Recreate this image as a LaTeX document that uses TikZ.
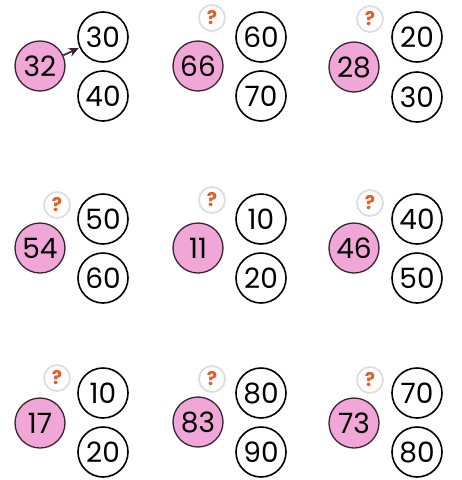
\documentclass[tikz,border=0pt]{standalone}
\usepackage{fontspec}
\setmainfont{Poppins}
\usetikzlibrary{arrows.meta}

\definecolor{ballpink}{RGB}{240,166,215}
\definecolor{ringdark}{RGB}{55,35,50}
\definecolor{hintorange}{RGB}{232,92,42}

\tikzset{
    given/.style={circle, draw=ringdark, fill=ballpink, line width=1.3pt,
        minimum size=50pt, inner sep=0pt, font=\fontsize{28}{28}\selectfont},
    tens/.style={circle, draw=black, fill=white, line width=1.6pt,
        minimum size=50pt, inner sep=0pt, font=\fontsize{28}{28}\selectfont},
    hint/.style={circle, draw=black!13, fill=white, line width=1.8pt,
        minimum size=26pt, inner sep=0pt, text=hintorange,
        font=\bfseries\fontsize{19}{19}\selectfont},
}

\begin{document}
\begin{tikzpicture}[x=1pt,y=-1pt]
        \useasboundingbox (0,0) rectangle (462,480);

        % first row
        \node [given] (p1) at (40,66) {32};
        \node [tens] (u1) at (103,37) {30};
        \node [tens] (d1) at (103,96) {40};

        \node [hint] (q2) at (212,18) {?};
        \node [given] (p2) at (198,66) {66};
        \node [tens] (u2) at (261,37) {60};
        \node [tens] (d2) at (261,96) {70};

        \node [hint] (q3) at (370,19) {?};
        \node [given] (p3) at (354,67) {28};
        \node [tens] (u3) at (417,37) {20};
        \node [tens] (d3) at (417,97) {30};

        % second row
        \node [hint] (q4) at (57,205) {?};
        \node [given] (p4) at (40,248) {54};
        \node [tens] (u4) at (103,219) {50};
        \node [tens] (d4) at (103,278) {60};

        \node [hint] (q5) at (212,200) {?};
        \node [given] (p5) at (198,248) {11};
        \node [tens] (u5) at (261,219) {10};
        \node [tens] (d5) at (261,278) {20};

        \node [hint] (q6) at (370,203) {?};
        \node [given] (p6) at (354,248) {46};
        \node [tens] (u6) at (417,219) {40};
        \node [tens] (d6) at (417,278) {50};

        % third row
        \node [hint] (q7) at (57,378) {?};
        \node [given] (p7) at (40,423) {17};
        \node [tens] (u7) at (103,393) {10};
        \node [tens] (d7) at (103,452) {20};

        \node [hint] (q8) at (212,379) {?};
        \node [given] (p8) at (198,422) {83};
        \node [tens] (u8) at (261,393) {80};
        \node [tens] (d8) at (261,452) {90};

        \node [hint] (q9) at (370,380) {?};
        \node [given] (p9) at (354,423) {73};
        \node [tens] (u9) at (417,393) {70};
        \node [tens] (d9) at (417,452) {80};

        \draw [ringdark, line width=1.7pt, shorten >=1pt,
            -{Stealth[length=10pt,width=9pt]}] (p1) -- (u1);

\end{tikzpicture}
\end{document}
